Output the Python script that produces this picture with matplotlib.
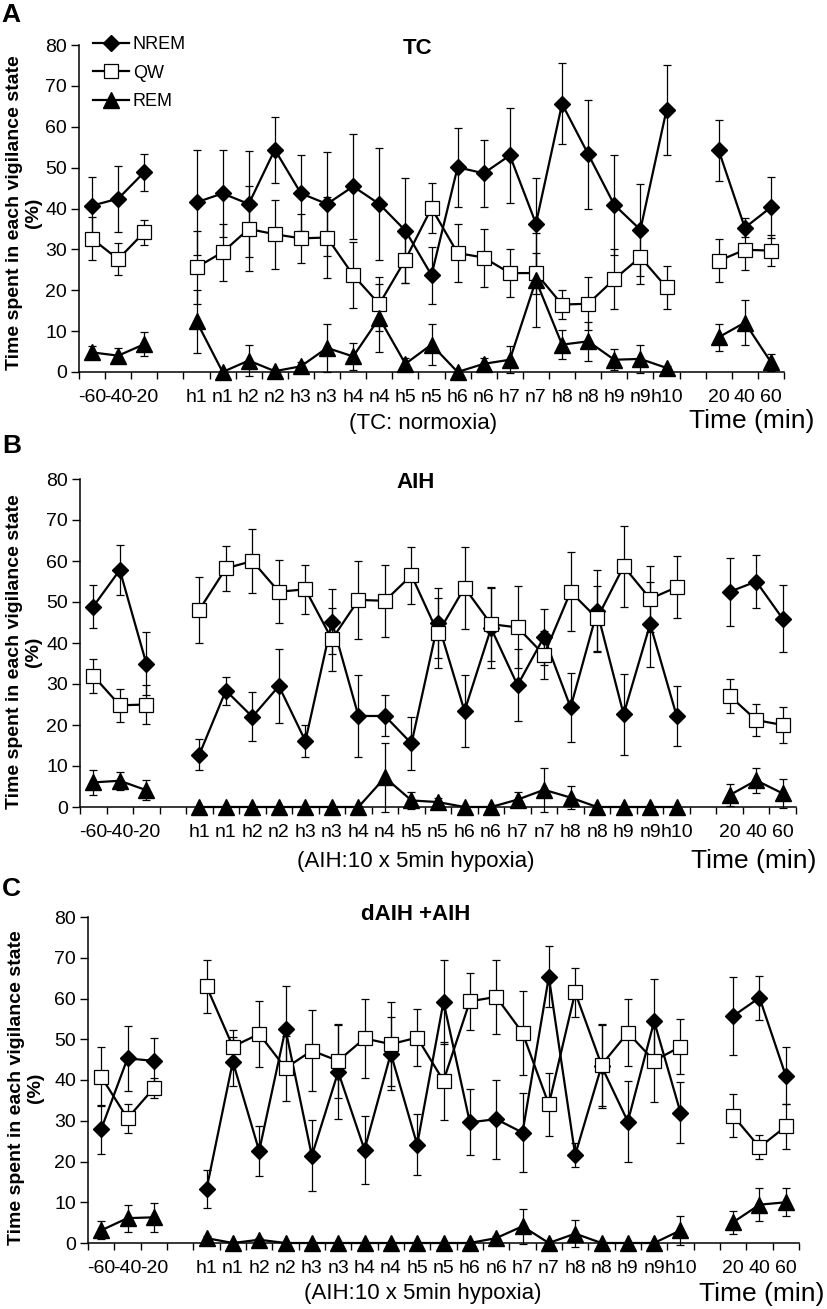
import matplotlib
matplotlib.use("Agg")
import matplotlib.pyplot as plt
import numpy as np

plt.rcParams['font.family'] = ['Liberation Sans', 'DejaVu Sans']

nan = np.nan

# category axis (blank slots separate baseline / hypoxia / recovery)
categories = ['-60', '-40', '-20', '',
              'h1', 'n1', 'h2', 'n2', 'h3', 'n3', 'h4', 'n4', 'h5', 'n5',
              'h6', 'n6', 'h7', 'n7', 'h8', 'n8', 'h9', 'n9', 'h10', '',
              '20', '40', '60']

# Panel A - TC
tc_nrem = [40.7, 42.4, 48.9, nan, 41.5, 43.7, 41.1, 54.4, 43.7, 41.1, 45.4, 41.1, 34.6, 23.7,
           50.1, 48.6, 53.0, 36.3, 65.6, 53.3, 40.9, 34.8, 64.1, nan, 54.2, 35.3, 40.3]
tc_nrem_err = [7.1, 8.1, 4.5, nan, 12.8, 10.6, 13.0, 8.1, 9.3, 12.7, 12.9, 13.6, 12.8, 7.0,
               9.7, 8.2, 11.6, 11.1, 9.9, 13.3, 12.3, 11.2, 11.0, nan, 7.5, 2.3, 7.5]
tc_qw = [32.6, 27.6, 34.2, nan, 25.6, 29.3, 35.0, 33.7, 32.7, 32.9, 23.7, 16.6, 27.5, 40.1,
         29.1, 28.0, 24.2, 24.2, 16.5, 16.7, 22.7, 28.1, 20.7, nan, 27.2, 29.9, 29.7]
tc_qw_err = [5.2, 3.9, 3.1, nan, 9.0, 7.0, 10.4, 8.4, 6.0, 10.0, 8.0, 6.6, 5.8, 6.2,
             7.0, 7.1, 5.8, 5.0, 3.6, 6.5, 7.3, 6.5, 5.3, nan, 5.3, 5.0, 3.7]
tc_rem = [4.8, 4.0, 6.8, nan, 12.4, 0, 2.8, 0.2, 1.4, 5.9, 3.8, 13.2, 2.0, 6.7,
          0, 2.0, 3.0, 22.4, 6.7, 7.5, 3.0, 3.2, 1.0, nan, 8.5, 12.1, 2.4]
tc_rem_err = [1.5, 1.9, 3.0, nan, 7.7, 0, 3.9, 0.5, 1.0, 5.9, 3.3, 8.3, 1.5, 5.0,
              0, 1.5, 3.3, 11.5, 3.5, 4.8, 2.6, 3.4, 0.5, nan, 3.3, 5.5, 2.1]

# Panel B - AIH
aih_nrem = [48.9, 57.8, 35.0, nan, 12.8, 28.4, 22.0, 29.5, 16.1, 45.2, 22.2, 22.2, 15.5, 44.9,
            23.4, 43.6, 29.7, 41.5, 24.3, 47.7, 22.6, 44.6, 22.2, nan, 52.5, 55.0, 45.9]
aih_nrem_err = [5.2, 6.2, 7.8, nan, 3.8, 3.4, 6.0, 9.0, 4.0, 8.0, 10.0, 5.0, 6.5, 8.5,
                8.8, 9.8, 8.8, 6.8, 8.4, 10.0, 9.9, 10.4, 7.4, nan, 8.3, 6.5, 8.2]
aih_qw = [32.0, 24.8, 25.0, nan, 48.1, 58.2, 60.0, 52.5, 53.1, 40.9, 50.5, 50.3, 56.5, 42.4,
          53.5, 44.6, 43.8, 37.1, 52.5, 46.0, 58.7, 50.8, 53.6, nan, 27.1, 21.2, 20.0]
aih_qw_err = [4.2, 4.1, 4.8, nan, 8.0, 5.4, 7.8, 7.7, 6.0, 7.7, 9.6, 8.8, 7.0, 8.5,
              10.0, 9.0, 10.0, 5.8, 9.6, 8.0, 9.8, 8.0, 7.6, nan, 4.2, 4.0, 4.5]
aih_rem = [6.0, 6.4, 4.1, nan, 0, 0, 0, 0, 0, 0, 0, 7.2, 1.6, 1.2,
           0, 0, 1.8, 4.2, 2.3, 0, 0, 0, 0, nan, 2.9, 6.5, 3.3]
aih_rem_err = [3.0, 2.2, 2.4, nan, 0, 0, 0, 0, 0, 0, 0, 8.3, 2.0, 1.0,
               0, 0, 1.9, 5.3, 2.8, 0, 0, 0, 0, nan, 2.6, 3.0, 3.6]

# Panel C - dAIH + AIH
daih_nrem = [27.9, 45.3, 44.7, nan, 13.2, 44.5, 22.6, 52.5, 21.4, 42.0, 22.9, 46.5, 24.1, 59.2,
             29.6, 30.4, 27.1, 65.3, 21.6, 43.4, 29.8, 54.4, 32.0, nan, 55.7, 60.2, 41.0]
daih_nrem_err = [6.0, 7.9, 5.7, nan, 4.6, 6.0, 6.2, 10.5, 8.7, 11.5, 8.3, 9.0, 7.5, 10.3,
                 8.1, 9.7, 9.7, 7.5, 3.0, 10.2, 10.0, 10.5, 7.4, nan, 9.6, 5.4, 7.0]
daih_qw = [40.8, 30.6, 38.0, nan, 63.0, 48.2, 51.3, 42.9, 47.2, 44.7, 50.2, 48.8, 50.4, 39.8,
           59.3, 60.4, 51.6, 34.0, 61.5, 43.7, 51.6, 44.7, 48.2, nan, 31.2, 23.5, 28.6]
daih_qw_err = [7.3, 3.5, 2.5, nan, 6.5, 4.0, 8.0, 8.0, 10.0, 9.0, 9.7, 10.3, 7.0, 9.5,
               7.0, 9.0, 10.3, 7.8, 6.0, 10.0, 8.2, 10.0, 6.8, nan, 5.3, 3.0, 5.5]
daih_rem = [3.1, 6.1, 6.3, nan, 1.2, 0, 0.8, 0, 0, 0, 0, 0, 0, 0,
            0, 1.2, 4.1, 0, 2.3, 0, 0, 0, 3.1, nan, 5.1, 9.4, 10.0]
daih_rem_err = [2.2, 3.3, 3.5, nan, 0.5, 0, 0.5, 0, 0, 0, 0, 0, 0, 0,
                0, 0.5, 4.3, 0, 3.4, 0, 0, 0, 3.6, nan, 2.8, 4.0, 3.4]

panels = [
    dict(letter='A', title='TC', note='(TC: normoxia)',
         nrem=tc_nrem, nrem_err=tc_nrem_err, qw=tc_qw, qw_err=tc_qw_err,
         rem=tc_rem, rem_err=tc_rem_err),
    dict(letter='B', title='AIH', note='(AIH:10 x 5min hypoxia)',
         nrem=aih_nrem, nrem_err=aih_nrem_err, qw=aih_qw, qw_err=aih_qw_err,
         rem=aih_rem, rem_err=aih_rem_err),
    dict(letter='C', title='dAIH +AIH', note='(AIH:10 x 5min hypoxia)',
         nrem=daih_nrem, nrem_err=daih_nrem_err, qw=daih_qw, qw_err=daih_qw_err,
         rem=daih_rem, rem_err=daih_rem_err),
]

W, H = 827, 1309
fig = plt.figure(figsize=(W / 100, H / 100), dpi=100)

# axes boxes in pixels: left, right, y of 0, y of 80
boxes = [(79, 784, 372, 45), (80, 796, 807, 479), (88, 799, 1243, 917)]
ylab_pos = [(24, 213), (24, 652), (26, 1088)]
letter_pos = [(1, 3), (2, 434), (2, 877)]
title_pos = [(418, 48), (416, 482), (416, 915)]
note_pos = [(423, 423), (416, 861), (423, 1294)]
time_pos = [(752, 421), (754, 861), (762, 1294)]

x = np.arange(len(categories))

styles = [
    ('nrem', 'NREM', dict(marker='D', markersize=8.5, markerfacecolor='black',
                          markeredgecolor='black')),
    ('qw', 'QW', dict(marker='s', markersize=10, markerfacecolor='white',
                      markeredgecolor='black', markeredgewidth=0.9)),
    ('rem', 'REM', dict(marker='^', markersize=12, markerfacecolor='black',
                        markeredgecolor='black')),
]

for i, p in enumerate(panels):
    l, r, y0, y80 = boxes[i]
    ax = fig.add_axes([l / W, 1 - y0 / H, (r - l) / W, (y0 - y80) / H])
    handles = []
    for key, name, st in styles:
        vals = np.array(p[key], dtype=float)
        errs = np.array(p[key + '_err'], dtype=float)
        ax.errorbar(x, vals, yerr=errs, fmt='none', ecolor='black', elinewidth=0.9,
                    capsize=3, capthick=0.9, zorder=2, clip_on=False)
        h, = ax.plot(x, vals, color='black', linewidth=1.6, zorder=3, clip_on=False,
                     label=name, **st)
        handles.append(h)

    ax.set_xlim(-0.5, len(categories) - 0.5)
    ax.set_ylim(0, 80)
    ax.set_yticks(np.arange(0, 81, 10))
    ax.set_xticks(x)
    ax.set_xticklabels(categories)
    ax.set_xticks(np.arange(-0.5, len(categories), 1.0), minor=True)
    ax.tick_params(axis='x', which='major', length=0, pad=12, labelsize=14)
    ax.tick_params(axis='x', which='minor', length=5, width=1.0, direction='out')
    ax.tick_params(axis='y', length=5.5, width=1.0, direction='out', pad=3, labelsize=14)
    for side in ['top', 'right']:
        ax.spines[side].set_visible(False)
    for side in ['left', 'bottom']:
        ax.spines[side].set_linewidth(1.1)

    fig.text(ylab_pos[i][0] / W, 1 - ylab_pos[i][1] / H,
             'Time spent in each vigilance state\n(%)', rotation=90,
             ha='center', va='center', multialignment='center',
             fontsize=14, fontweight='bold', linespacing=1.15)
    fig.text(letter_pos[i][0] / W, 1 - letter_pos[i][1] / H, p['letter'],
             ha='left', va='top', fontsize=19, fontweight='bold')
    fig.text(title_pos[i][0] / W, 1 - title_pos[i][1] / H, p['title'],
             ha='center', va='center', fontsize=16, fontweight='bold')
    fig.text(note_pos[i][0] / W, 1 - note_pos[i][1] / H, p['note'],
             ha='center', va='center', fontsize=16)
    fig.text(time_pos[i][0] / W, 1 - time_pos[i][1] / H, 'Time (min)',
             ha='center', va='center', fontsize=19)

    if i == 0:
        fig.legend(handles=handles, loc='upper left',
                   bbox_to_anchor=(93 / W, 1 - 36 / H), frameon=False,
                   fontsize=13, handlelength=2.0, handletextpad=0.2,
                   labelspacing=0.65, borderpad=0, borderaxespad=0)

fig.savefig('out.png', dpi=100)
